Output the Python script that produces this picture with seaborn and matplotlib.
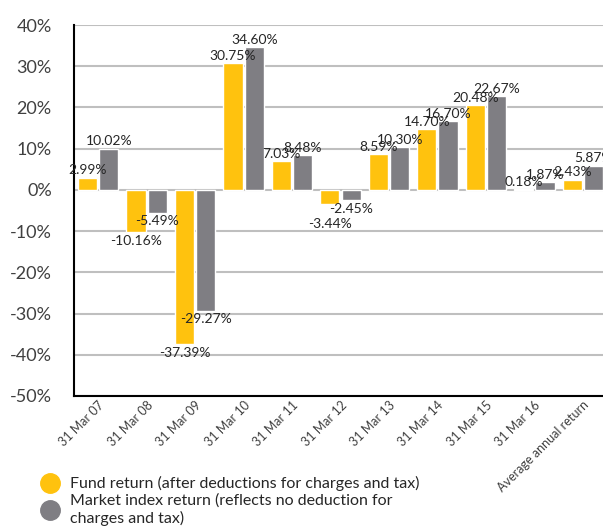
import matplotlib
matplotlib.use("Agg")
import matplotlib.pyplot as plt
from matplotlib.lines import Line2D
import seaborn as sns
import pandas as pd

categories = ["31 Mar 07", "31 Mar 08", "31 Mar 09", "31 Mar 10", "31 Mar 11", "31 Mar 12",
              "31 Mar 13", "31 Mar 14", "31 Mar 15", "31 Mar 16", "Average annual return"]
fund = [2.99, -10.16, -37.39, 30.75, 7.03, -3.44, 8.59, 14.70, 20.48, 0.18, 2.43]
market = [10.02, -5.49, -29.27, 34.60, 8.48, -2.45, 10.30, 16.70, 22.67, 1.87, 5.87]
series_names = ["Fund return (after deductions for charges and tax)",
                "Market index return (reflects no deduction for\ncharges and tax)"]
colors = ["#FFC20E", "#7F7E83"]

df = pd.DataFrame({
    "cat": categories * 2,
    "val": fund + market,
    "series": [series_names[0]] * len(categories) + [series_names[1]] * len(categories),
})

sns.set_theme(style="white")
plt.rcParams['font.family'] = ['Lato', 'DejaVu Sans']

fig = plt.figure(figsize=(6.03, 5.32), dpi=100)
ax = fig.add_axes([74 / 603, 136 / 532, 533 / 603, 371 / 532])

sns.barplot(data=df, x="cat", y="val", hue="series", palette=colors, ax=ax,
            width=0.88, gap=0.1, legend=False, saturation=1, zorder=3)

ax.set_ylim(-50, 40)
ax.set_yticks(range(-50, 41, 10))
ax.set_yticklabels([f"{t}%" for t in range(-50, 41, 10)], fontsize=13, color="#404040")
ax.yaxis.grid(True, color="#BFBFBF", linewidth=1.5, zorder=0)
ax.set_axisbelow(True)
ax.set_xlabel("")
ax.set_ylabel("")
ax.set_xlim(-0.5, len(categories) - 0.5)
ax.tick_params(axis="y", length=0, pad=16)
ax.tick_params(axis="x", length=0, pad=2)
ax.set_xticks(range(len(categories)))
ax.set_xticklabels(categories, rotation=45, ha="right", rotation_mode="anchor",
                   fontsize=9, color="#404040")
for s in ["top", "right"]:
    ax.spines[s].set_visible(False)
ax.spines["left"].set_color("black")
ax.spines["left"].set_linewidth(1.5)
ax.spines["bottom"].set_color("black")
ax.spines["bottom"].set_linewidth(1.5)

# extra vertical nudge (points) for a crowded label, as in the reference
nudges = {(0, 5): -8}

for si, container in enumerate(ax.containers):
    for ci, bar in enumerate(container):
        h = bar.get_height()
        xc = bar.get_x() + bar.get_width() / 2
        dy = nudges.get((si, ci), 0)
        if h >= 0:
            ax.annotate(f"{h:.2f}%", (xc, h), xytext=(0, 1 + dy), textcoords="offset points",
                        ha="center", va="bottom", fontsize=10, color="#262626", zorder=5)
        else:
            ax.annotate(f"{h:.2f}%", (xc, h), xytext=(0, -2 + dy), textcoords="offset points",
                        ha="center", va="top", fontsize=10, color="#262626", zorder=5)

handles = [Line2D([0], [0], marker="o", linestyle="", markersize=14,
                  markerfacecolor=c, markeredgecolor=c) for c in colors]
fig.legend(handles, series_names, loc="upper left", bbox_to_anchor=(28 / 603, 1 - 470 / 532),
           frameon=False, fontsize=11.5, handletextpad=0.2, labelspacing=0.15,
           labelcolor="#262626", borderaxespad=0)

fig.savefig("out.png", dpi=100)
